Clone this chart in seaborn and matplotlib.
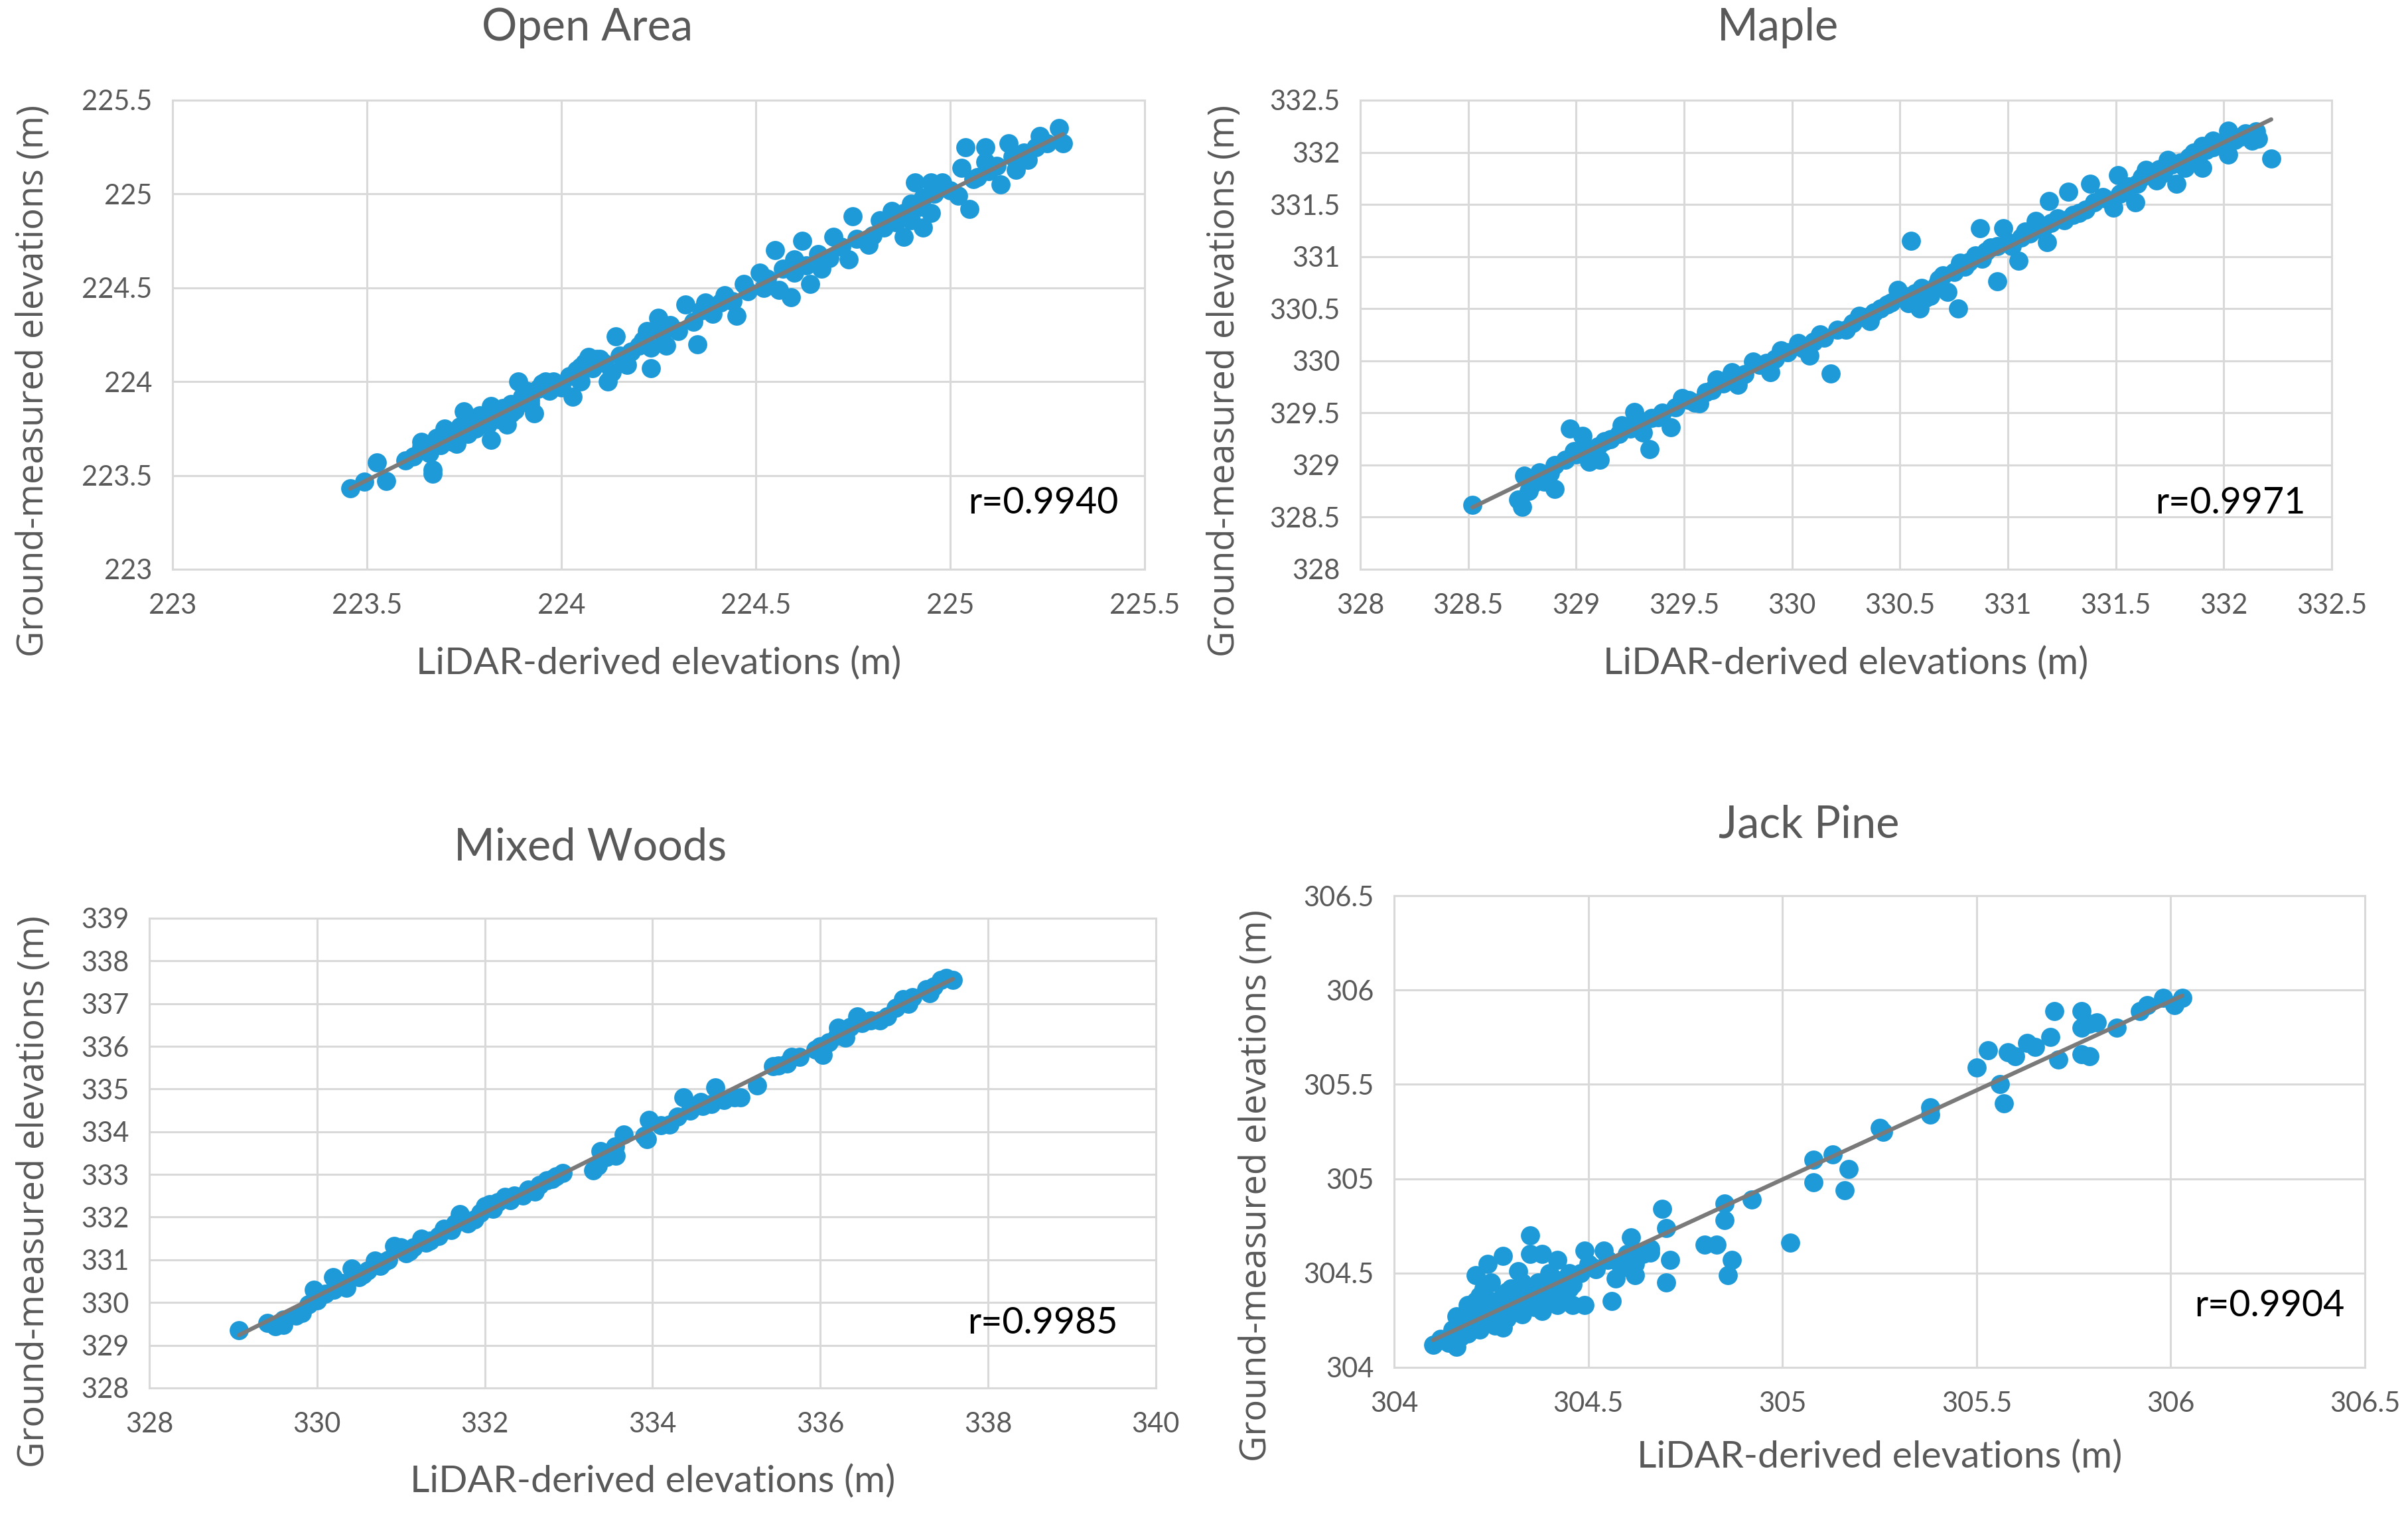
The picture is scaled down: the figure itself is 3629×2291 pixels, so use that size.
import matplotlib
matplotlib.use("Agg")
import matplotlib.pyplot as plt
import seaborn as sns
import numpy as np

sns.set_theme(style="white")
plt.rcParams['font.family'] = ['Lato', 'DejaVu Sans']

# ---------------- data ----------------
open_x = [223.457, 223.494, 223.526, 223.55, 223.6, 223.64, 223.67, 223.67, 223.7, 223.75, 223.73, 223.79,
          223.82, 223.82, 223.86, 223.87, 223.89, 223.92, 223.93, 223.96, 223.995, 224.03, 224.05, 224.07,
          224.1, 224.12, 224.14, 224.17, 224.2, 224.22, 224.23, 224.25, 224.27, 224.32, 224.35, 224.37,
          224.42, 224.45, 224.47, 224.51, 224.55, 224.56, 224.59, 224.6, 224.62, 224.64, 224.67, 224.7,
          224.74, 224.75, 224.79, 224.83, 224.85, 224.88, 224.9, 224.91, 224.93, 224.95, 224.98, 225.02,
          225.03, 225.04, 225.05, 225.07, 225.09, 225.09, 225.13, 225.15, 225.17, 225.19, 225.23, 225.28,
          225.29,
          223.62, 223.64, 223.66, 223.68, 223.69, 223.71, 223.72, 223.74, 223.76, 223.77, 223.78, 223.8,
          223.81, 223.83, 223.84, 223.85, 223.87, 223.88, 223.9, 223.91, 223.92, 223.94, 223.95, 223.97,
          223.98, 224.0, 224.02, 224.04, 224.05, 224.06, 224.08, 224.09, 224.11, 224.13, 224.15, 224.18,
          224.21, 224.23, 224.26, 224.28, 224.3, 224.34, 224.36, 224.39, 224.41, 224.44, 224.48, 224.52,
          224.53, 224.57, 224.6, 224.63, 224.66, 224.69, 224.72, 224.76, 224.8, 224.82, 224.86, 224.88,
          224.9, 224.92, 224.93, 224.95, 224.96, 225.0, 225.06, 225.1, 225.12, 225.16, 225.2, 225.22, 225.25]
open_y = [223.43, 223.465, 223.57, 223.47, 223.58, 223.68, 223.53, 223.51, 223.75, 223.84, 223.67, 223.82,
          223.87, 223.69, 223.77, 223.83, 224.0, 223.9, 223.83, 224.0, 223.98, 223.92, 224.08, 224.13,
          224.12, 224.0, 224.24, 224.09, 224.19, 224.27, 224.07, 224.34, 224.19, 224.41, 224.2, 224.42,
          224.46, 224.35, 224.52, 224.58, 224.7, 224.49, 224.45, 224.65, 224.75, 224.52, 224.6, 224.77,
          224.65, 224.88, 224.73, 224.82, 224.91, 224.77, 224.95, 225.06, 224.82, 225.06, 225.06, 224.99,
          225.14, 225.25, 224.92, 225.09, 225.25, 225.17, 225.05, 225.27, 225.13, 225.22, 225.31, 225.35,
          225.27,
          223.6, 223.65, 223.62, 223.7, 223.66, 223.72, 223.68, 223.76, 223.72, 223.79, 223.75, 223.8,
          223.77, 223.84, 223.8, 223.86, 223.88, 223.85, 223.92, 223.95, 223.88, 223.96, 223.99, 223.95,
          224.0, 223.97, 224.03, 224.06, 224.0, 224.1, 224.07, 224.12, 224.1, 224.05, 224.14, 224.16,
          224.22, 224.18, 224.26, 224.3, 224.27, 224.32, 224.38, 224.36, 224.42, 224.43, 224.48, 224.5,
          224.55, 224.6, 224.58, 224.62, 224.68, 224.66, 224.72, 224.76, 224.78, 224.86, 224.85, 224.9,
          224.86, 224.93, 224.98, 224.9, 225.0, 225.02, 225.08, 225.12, 225.15, 225.2, 225.18, 225.25, 225.27]

maple_x = [328.52, 328.73, 328.75, 328.76, 328.8, 328.83, 328.9, 328.9, 328.97, 328.99, 329.03, 329.06,
           329.11, 329.13, 329.21, 329.27, 329.31, 329.34, 329.38, 329.44, 329.49, 329.57, 329.65, 329.72,
           329.75, 329.82, 329.9, 329.95, 330.03, 330.08, 330.13, 330.18, 330.21, 330.31, 330.36, 330.41,
           330.49, 330.54, 330.55, 330.59, 330.62, 330.67, 330.72, 330.77, 330.78, 330.85, 330.87, 330.92,
           330.95, 330.98, 331.0, 331.05, 331.08, 331.13, 331.18, 331.19, 331.23, 331.28, 331.33, 331.38,
           331.44, 331.49, 331.51, 331.56, 331.59, 331.64, 331.69, 331.74, 331.78, 331.82, 331.9, 331.9,
           331.95, 332.02, 332.02, 332.1, 332.13, 332.22,
           328.78, 328.8, 328.85, 328.88, 328.95, 329.0, 329.05, 329.1, 329.16, 329.2, 329.25, 329.3,
           329.35, 329.4, 329.46, 329.52, 329.55, 329.6, 329.63, 329.68, 329.7, 329.78, 329.85, 329.88,
           329.92, 329.98, 330.05, 330.1, 330.15, 330.25, 330.28, 330.33, 330.38, 330.44, 330.46, 330.52,
           330.57, 330.6, 330.64, 330.68, 330.7, 330.75, 330.8, 330.82, 330.88, 330.9, 330.95, 331.02,
           331.06, 331.1, 331.16, 331.2, 331.26, 331.3, 331.36, 331.4, 331.45, 331.52, 331.55, 331.6,
           331.62, 331.66, 331.7, 331.72, 331.76, 331.8, 331.84, 331.86, 331.92, 331.95, 331.98, 332.05,
           332.08, 332.12, 332.15, 332.16, 331.88, 332.0]
maple_y = [328.62, 328.67, 328.6, 328.9, 328.82, 328.93, 328.77, 329.0, 329.35, 329.13, 329.28, 329.03,
           329.05, 329.23, 329.38, 329.51, 329.31, 329.15, 329.46, 329.36, 329.64, 329.59, 329.82, 329.89,
           329.77, 329.99, 329.89, 330.1, 330.17, 330.05, 330.25, 329.88, 330.3, 330.43, 330.38, 330.5,
           330.68, 330.55, 331.15, 330.5, 330.6, 330.73, 330.66, 330.5, 330.94, 331.01, 331.27, 331.09,
           330.76, 331.27, 331.14, 330.96, 331.24, 331.34, 331.14, 331.53, 331.37, 331.62, 331.42, 331.7,
           331.57, 331.47, 331.78, 331.67, 331.52, 331.83, 331.73, 331.93, 331.7, 331.85, 332.06, 331.85,
           332.11, 331.98, 332.21, 332.18, 332.11, 331.94,
           328.75, 328.86, 328.84, 328.92, 329.05, 329.1, 329.15, 329.18, 329.25, 329.3, 329.35, 329.42,
           329.45, 329.5, 329.55, 329.62, 329.6, 329.7, 329.72, 329.78, 329.82, 329.87, 329.96, 329.98,
           330.02, 330.08, 330.12, 330.18, 330.22, 330.3, 330.36, 330.42, 330.46, 330.54, 330.56, 330.62,
           330.65, 330.7, 330.62, 330.78, 330.82, 330.85, 330.9, 330.95, 330.98, 331.05, 331.1, 331.1,
           331.18, 331.22, 331.26, 331.32, 331.35, 331.4, 331.45, 331.52, 331.56, 331.6, 331.66, 331.7,
           331.76, 331.8, 331.84, 331.8, 331.88, 331.9, 331.95, 332.0, 332.02, 332.05, 332.08, 332.12,
           332.15, 332.16, 332.2, 332.13, 331.92, 332.1]

mixed_x = [329.07, 329.41, 329.6, 329.82, 329.96, 330.19, 330.41, 330.69, 330.92, 331.06, 331.24, 331.51,
           331.7, 331.88, 332.06, 332.24, 332.52, 332.74, 332.93, 333.29, 333.38, 333.56, 333.66, 333.93,
           333.96, 334.2, 334.37, 334.57, 334.75, 334.98, 335.25, 335.44, 335.66, 335.94, 336.03, 336.21,
           336.3, 336.44, 336.71, 336.99, 337.26, 337.44, 337.58,
           329.5, 329.6, 329.75, 329.9, 330.0, 330.1, 330.2, 330.3, 330.35, 330.5, 330.55, 330.6, 330.75,
           330.8, 330.85, 331.0, 331.1, 331.15, 331.3, 331.35, 331.45, 331.6, 331.65, 331.75, 331.8, 331.95,
           332.0, 332.1, 332.15, 332.3, 332.35, 332.45, 332.6, 332.65, 332.8, 332.85, 333.35, 333.45, 333.55,
           333.9, 334.1, 334.3, 334.45, 334.6, 334.7, 334.85, 335.05, 335.5, 335.6, 335.75, 336.0, 336.1,
           336.2, 336.35, 336.5, 336.6, 336.8, 336.9, 337.05, 337.1, 337.3, 337.35, 337.5]
mixed_y = [329.35, 329.52, 329.47, 329.75, 330.3, 330.6, 330.8, 330.98, 331.33, 331.16, 331.5, 331.73,
           332.07, 331.95, 332.3, 332.47, 332.64, 332.86, 333.03, 333.09, 333.55, 333.43, 333.94, 333.83,
           334.28, 334.17, 334.8, 334.69, 335.03, 334.8, 335.09, 335.53, 335.76, 335.93, 335.8, 336.44,
           336.2, 336.7, 336.6, 337.1, 337.33, 337.55, 337.55,
           329.45, 329.6, 329.7, 329.95, 330.05, 330.2, 330.3, 330.45, 330.35, 330.6, 330.65, 330.75, 330.85,
           330.95, 331.0, 331.3, 331.2, 331.3, 331.4, 331.45, 331.55, 331.7, 331.85, 331.95, 331.85, 332.1,
           332.25, 332.2, 332.35, 332.4, 332.5, 332.5, 332.6, 332.75, 332.9, 332.95, 333.2, 333.4, 333.65,
           333.9, 334.15, 334.35, 334.5, 334.6, 334.65, 334.75, 334.8, 335.55, 335.6, 335.75, 336.0, 336.1,
           336.25, 336.45, 336.55, 336.6, 336.7, 336.9, 337.0, 337.15, 337.25, 337.4, 337.6]

jack_x = [304.1, 304.16, 304.16, 304.18, 304.19, 304.21, 304.22, 304.24, 304.23, 304.25, 304.28, 304.28,
          304.29, 304.32, 304.33, 304.35, 304.35, 304.36, 304.38, 304.38, 304.41, 304.42, 304.42, 304.45,
          304.46, 304.49, 304.49, 304.51, 304.54, 304.56, 304.57, 304.6, 304.61, 304.62, 304.66, 304.69,
          304.7, 304.7, 304.71, 304.8, 304.83, 304.85, 304.85, 304.86, 304.87, 304.92, 305.02, 305.08,
          305.08, 305.13, 305.16, 305.17, 305.25, 305.26, 305.38, 305.38,
          305.5, 305.53, 305.56, 305.57, 305.58, 305.6, 305.63, 305.65, 305.69, 305.7, 305.71, 305.77,
          305.77, 305.77, 305.79, 305.79, 305.81, 305.86, 305.92, 305.94, 305.98, 306.01, 306.03,
          304.12, 304.14, 304.15, 304.17, 304.18, 304.19, 304.2, 304.2, 304.21, 304.22, 304.22, 304.23,
          304.24, 304.25, 304.25, 304.26, 304.27, 304.28, 304.29, 304.3, 304.3, 304.31, 304.32, 304.33,
          304.34, 304.35, 304.36, 304.37, 304.38, 304.39, 304.4, 304.4, 304.42, 304.43, 304.44, 304.45,
          304.46, 304.48, 304.5, 304.52, 304.55, 304.58, 304.6, 304.62, 304.64, 304.66]
jack_y = [304.12, 304.11, 304.27, 304.21, 304.33, 304.49, 304.38, 304.55, 304.27, 304.31, 304.21, 304.59,
          304.4, 304.51, 304.28, 304.7, 304.6, 304.4, 304.6, 304.3, 304.47, 304.57, 304.33, 304.42,
          304.33, 304.62, 304.33, 304.53, 304.62, 304.35, 304.47, 304.53, 304.69, 304.49, 304.61, 304.84,
          304.74, 304.45, 304.57, 304.65, 304.65, 304.78, 304.87, 304.49, 304.57, 304.89, 304.66, 305.1,
          304.98, 305.13, 304.94, 305.05, 305.27, 305.25, 305.38, 305.34,
          305.59, 305.68, 305.5, 305.4, 305.67, 305.65, 305.72, 305.7, 305.75, 305.89, 305.63, 305.89,
          305.8, 305.66, 305.65, 305.82, 305.83, 305.8, 305.89, 305.92, 305.96, 305.92, 305.96,
          304.15, 304.13, 304.2, 304.16, 304.25, 304.18, 304.22, 304.28, 304.35, 304.2, 304.3, 304.42,
          304.25, 304.35, 304.45, 304.22, 304.3, 304.38, 304.26, 304.33, 304.42, 304.3, 304.37, 304.45,
          304.35, 304.4, 304.32, 304.45, 304.38, 304.42, 304.36, 304.5, 304.45, 304.4, 304.47, 304.5,
          304.44, 304.5, 304.55, 304.52, 304.57, 304.55, 304.6, 304.55, 304.6, 304.63]

titles = ["Open Area", "Maple", "Mixed Woods", "Jack Pine"]
r_labels = ["r=0.9940", "r=0.9971", "r=0.9985", "r=0.9904"]
x_label = "LiDAR-derived elevations (m)"
y_label = "Ground-measured elevations (m)"

open_ticks = [223, 223.5, 224, 224.5, 225, 225.5]
maple_ticks = [328, 328.5, 329, 329.5, 330, 330.5, 331, 331.5, 332, 332.5]
mixed_xticks = [328, 330, 332, 334, 336, 338, 340]
mixed_yticks = [328, 329, 330, 331, 332, 333, 334, 335, 336, 337, 338, 339]
jack_ticks = [304, 304.5, 305, 305.5, 306, 306.5]

# ---------------- layout / style ----------------
W, H = 3629, 2291
fig = plt.figure(figsize=(W / 100, H / 100), dpi=100)
fig.patch.set_facecolor("white")

POINT = "#1f9ad8"
LINE = "#7a7a7a"
TXT = "#595959"
GRID = "#d9d9d9"

panels = [
    dict(rect=[0.0716, 0.6255, 0.4037, 0.3086], x=open_x, y=open_y, xt=open_ticks, yt=open_ticks,
         title_xy=(0.427, 1.154), ylab=(-0.1427, 0.402), xlab_y=-0.20, r_xy=(0.973, 0.14)),
    dict(rect=[0.5649, 0.6255, 0.4034, 0.3086], x=maple_x, y=maple_y, xt=maple_ticks, yt=maple_ticks,
         title_xy=(0.430, 1.154), ylab=(-0.140, 0.402), xlab_y=-0.20, r_xy=(0.973, 0.14)),
    dict(rect=[0.0620, 0.0869, 0.4180, 0.3090], x=mixed_x, y=mixed_y, xt=mixed_xticks, yt=mixed_yticks,
         title_xy=(0.438, 1.151), ylab=(-0.1147, 0.418), xlab_y=-0.199, r_xy=(0.962, 0.137)),
    dict(rect=[0.5790, 0.1004, 0.4031, 0.3103], x=jack_x, y=jack_y, xt=jack_ticks, yt=jack_ticks,
         title_xy=(0.427, 1.150), ylab=(-0.142, 0.385), xlab_y=-0.19, r_xy=(0.979, 0.13)),
]

for p, title, rlab in zip(panels, titles, r_labels):
    ax = fig.add_axes(p["rect"])
    sns.regplot(x=np.array(p["x"]), y=np.array(p["y"]), ax=ax, ci=None, truncate=True,
                scatter_kws=dict(s=430, color=POINT, alpha=1, linewidths=0, zorder=3),
                line_kws=dict(color=LINE, lw=4.5, zorder=4))
    ax.set_xlim(p["xt"][0], p["xt"][-1])
    ax.set_ylim(p["yt"][0], p["yt"][-1])
    ax.set_xticks(p["xt"])
    ax.set_yticks(p["yt"])
    ax.set_xticklabels([f"{t:g}" for t in p["xt"]])
    ax.set_yticklabels([f"{t:g}" for t in p["yt"]])
    ax.grid(True, color=GRID, lw=2.2, zorder=0)
    ax.set_axisbelow(True)
    for s in ax.spines.values():
        s.set_visible(True)
        s.set_color(GRID)
        s.set_linewidth(2.2)
    ax.tick_params(axis="both", length=0, labelsize=30, labelcolor=TXT)
    ax.tick_params(axis="x", pad=26)
    ax.tick_params(axis="y", pad=22)
    ax.set_xlabel(x_label, fontsize=41, color=TXT, va="center")
    ax.xaxis.set_label_coords(0.5, p["xlab_y"])
    ax.set_ylabel(y_label, fontsize=39, color=TXT, va="center",
                  family=["Open Sans", "DejaVu Sans"])
    ax.yaxis.set_label_coords(*p["ylab"])
    ax.set_title(title, fontsize=48, color=TXT, x=p["title_xy"][0], y=p["title_xy"][1],
                 va="center", pad=0)
    ax.text(p["r_xy"][0], p["r_xy"][1], rlab, transform=ax.transAxes, ha="right", va="center",
            fontsize=40, color="black")

fig.savefig("out.png", dpi=100, facecolor="white")
